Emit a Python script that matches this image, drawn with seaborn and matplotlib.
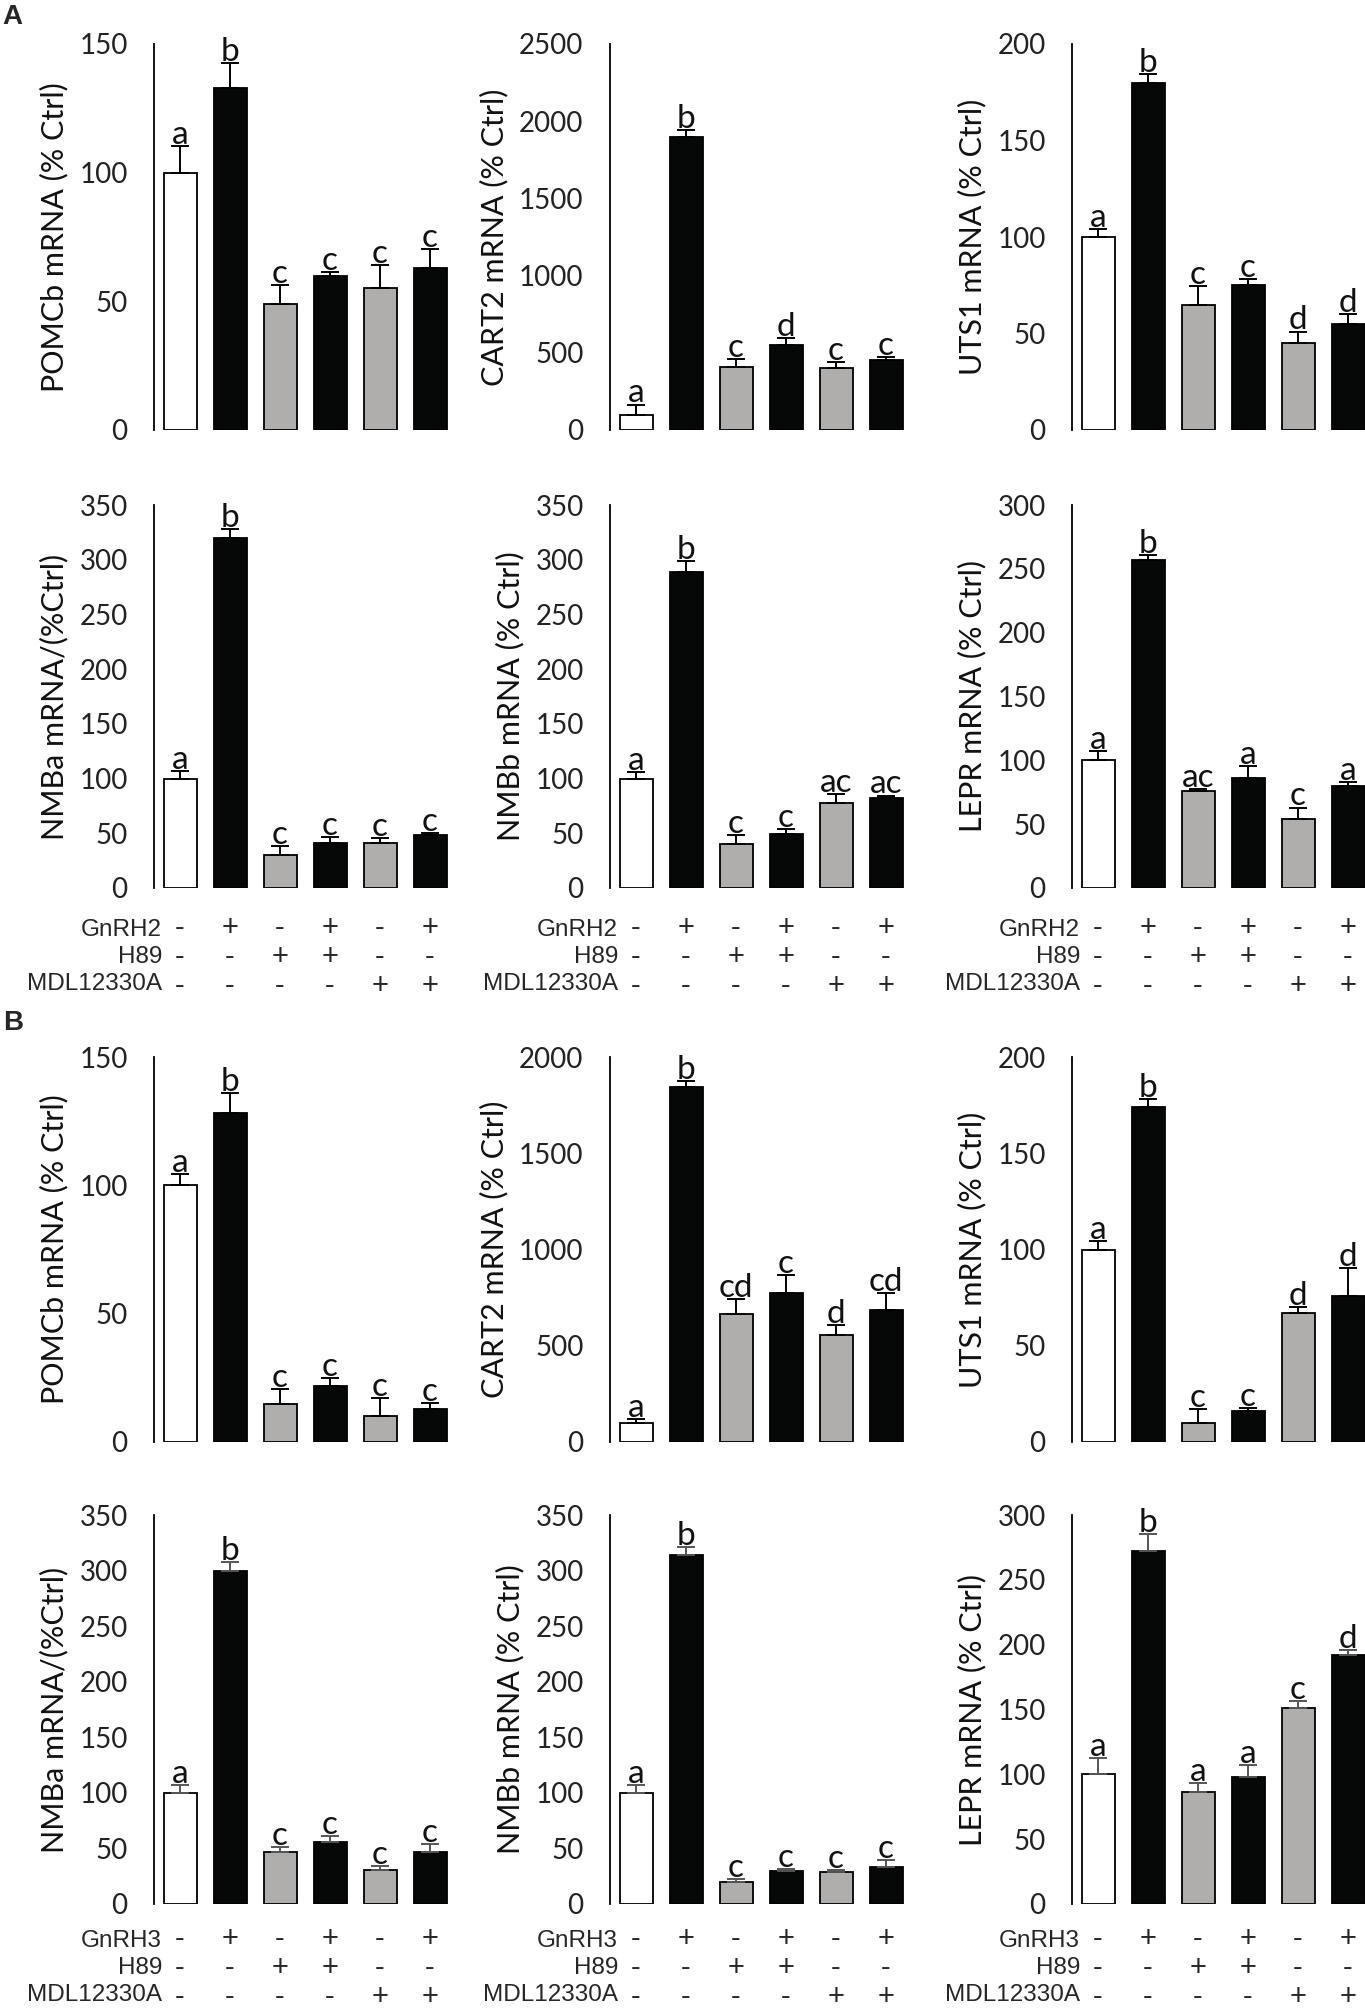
import numpy as np
import pandas as pd
import matplotlib
matplotlib.use('Agg')
import matplotlib.pyplot as plt
import seaborn as sns

sns.set_style('white')
plt.rcParams['font.family'] = ['Lato', 'DejaVu Sans']

conds = ['ctrl', 'gnrh', 'h89', 'gnrh_h89', 'mdl', 'gnrh_mdl']
bar_colors = ['white', '#060808', '#b0adad', '#060808', '#b0adad', '#060808']

# --- A: GnRH2 ---
pomcb_a = [100, 133, 49, 60, 55, 63]
pomcb_a_err = [10.5, 9.5, 7.5, 1.5, 9, 7.3]
pomcb_a_let = ['a', 'b', 'c', 'c', 'c', 'c']

cart2_a = [100, 1900, 410, 550, 400, 455]
cart2_a_err = [65, 45, 50, 45, 38, 15]
cart2_a_let = ['a', 'b', 'c', 'd', 'c', 'c']

uts1_a = [100, 180, 65, 75, 45, 55]
uts1_a_err = [4, 4.5, 9.5, 3, 6, 5]
uts1_a_let = ['a', 'b', 'c', 'c', 'd', 'd']

nmba_a = [100, 320, 30, 41, 41, 48]
nmba_a_err = [7, 8, 8.5, 5.5, 5, 2]
nmba_a_let = ['a', 'b', 'c', 'c', 'c', 'c']

nmbb_a = [100, 289, 40, 49, 78, 82]
nmbb_a_err = [6, 10, 8, 5, 8, 2.5]
nmbb_a_let = ['a', 'b', 'c', 'c', 'ac', 'ac']

lepr_a = [100, 257, 76, 86, 54, 80]
lepr_a_err = [7, 4, 1.5, 9.5, 9, 3]
lepr_a_let = ['a', 'b', 'ac', 'a', 'c', 'a']

# --- B: GnRH3 ---
pomcb_b = [100, 128, 15, 22, 10, 13]
pomcb_b_err = [4.5, 8, 5.5, 3, 7, 2.2]
pomcb_b_let = ['a', 'b', 'c', 'c', 'c', 'c']

cart2_b = [100, 1846, 665, 773, 556, 686]
cart2_b_err = [20, 30, 80, 95, 50, 90]
cart2_b_let = ['a', 'b', 'cd', 'c', 'd', 'cd']

uts1_b = [100, 174, 10, 16, 67, 76]
uts1_b_err = [4.5, 4, 7, 1.8, 3, 14.4]
uts1_b_let = ['a', 'b', 'c', 'c', 'd', 'd']

nmba_b = [100, 300, 47, 56, 31, 47]
nmba_b_err = [7, 8, 4, 5, 3, 7]
nmba_b_let = ['a', 'b', 'c', 'c', 'c', 'c']

nmbb_b = [100, 314, 20, 30, 29, 33]
nmbb_b_err = [7, 7.5, 2.5, 1.5, 1.5, 6.5]
nmbb_b_let = ['a', 'b', 'c', 'c', 'c', 'c']

lepr_b = [100, 272, 86, 98, 151, 192]
lepr_b_err = [12.5, 13, 7, 9, 5.6, 4]
lepr_b_let = ['a', 'b', 'a', 'a', 'c', 'd']

treat_a = ['GnRH2', 'H89', 'MDL12330A']
treat_b = ['GnRH3', 'H89', 'MDL12330A']
signs = [['-', '+', '-', '+', '-', '+'],
         ['-', '-', '+', '+', '-', '-'],
         ['-', '-', '-', '-', '+', '+']]

panels = [
    # row, col, values, errors, letters, ylabel, ymax, step, err colour
    (0, 0, pomcb_a, pomcb_a_err, pomcb_a_let, 'POMCb mRNA (% Ctrl)', 150, 50, 'black'),
    (0, 1, cart2_a, cart2_a_err, cart2_a_let, 'CART2 mRNA (% Ctrl)', 2500, 500, 'black'),
    (0, 2, uts1_a, uts1_a_err, uts1_a_let, 'UTS1 mRNA (% Ctrl)', 200, 50, 'black'),
    (1, 0, nmba_a, nmba_a_err, nmba_a_let, 'NMBa mRNA/(%Ctrl)', 350, 50, 'black'),
    (1, 1, nmbb_a, nmbb_a_err, nmbb_a_let, 'NMBb mRNA (% Ctrl)', 350, 50, 'black'),
    (1, 2, lepr_a, lepr_a_err, lepr_a_let, 'LEPR mRNA (% Ctrl)', 300, 50, 'black'),
    (2, 0, pomcb_b, pomcb_b_err, pomcb_b_let, 'POMCb mRNA (% Ctrl)', 150, 50, 'black'),
    (2, 1, cart2_b, cart2_b_err, cart2_b_let, 'CART2 mRNA (% Ctrl)', 2000, 500, 'black'),
    (2, 2, uts1_b, uts1_b_err, uts1_b_let, 'UTS1 mRNA (% Ctrl)', 200, 50, 'black'),
    (3, 0, nmba_b, nmba_b_err, nmba_b_let, 'NMBa mRNA/(%Ctrl)', 350, 50, '#555555'),
    (3, 1, nmbb_b, nmbb_b_err, nmbb_b_let, 'NMBb mRNA (% Ctrl)', 350, 50, '#555555'),
    (3, 2, lepr_b, lepr_b_err, lepr_b_let, 'LEPR mRNA (% Ctrl)', 300, 50, '#555555'),
]

W, H = 1365, 2012
col_x = [154, 610, 1072]
rows_px = [(44, 430), (505, 888), (1057, 1442), (1515, 1904)]
ax_w = 296
arial = ['Liberation Sans', 'DejaVu Sans']

fig = plt.figure(figsize=(W / 100, H / 100), dpi=100)

for r, c, vals, errs, lets, ylab, ymax, step, ecol in panels:
    top, zero = rows_px[r]
    ax = fig.add_axes([col_x[c] / W, 1 - zero / H, ax_w / W, (zero - top) / H])
    df = pd.DataFrame({'cond': conds, 'val': vals})
    sns.barplot(data=df, x='cond', y='val', hue='cond', order=conds,
                palette=dict(zip(conds, bar_colors)), legend=False,
                width=0.66, edgecolor='black', linewidth=1.3,
                saturation=1, errorbar=None, ax=ax)
    ax.errorbar(np.arange(6), vals, yerr=[np.zeros(6), errs], fmt='none',
                ecolor=ecol, elinewidth=1.4, capsize=6.5, capthick=1.4, zorder=3)
    for i, (v, e, l) in enumerate(zip(vals, errs, lets)):
        ax.annotate(l, xy=(i, v + e), xytext=(0, 1.5), textcoords='offset points',
                    ha='center', va='baseline', fontsize=24, color='#111111',
                    annotation_clip=False)
    ax.set_xlim(-0.52, 5.4)
    ax.set_ylim(0, ymax)
    ax.set_yticks(range(0, ymax + 1, step))
    ax.set_xticks([])
    ax.set_xlabel('')
    ax.set_ylabel(ylab, fontsize=22, labelpad=8, color='#111111')
    ax.tick_params(axis='y', direction='out', length=8, width=1.2, pad=11,
                   labelsize=20, labelcolor='#222222', color='black')
    sns.despine(ax=ax, bottom=True)
    ax.spines['left'].set_linewidth(1.3)
    ax.spines['left'].set_color('black')

    if r in (1, 3):
        names = treat_a if r == 1 else treat_b
        # centre of the middle (H89) row, pixels below the zero line
        mid = 69 if r == 1 else 64
        dy = -mid * 0.72
        ax.annotate('\n'.join(names), xy=(-0.36, 0), xytext=(0, dy),
                    textcoords='offset points', ha='right', va='center',
                    multialignment='right', linespacing=1.32, fontsize=17.5,
                    family=arial, annotation_clip=False)
        for i in range(6):
            col = '\n'.join(signs[k][i] for k in range(3))
            ax.annotate(col, xy=(i, 0), xytext=(0, dy), textcoords='offset points',
                        ha='center', va='center', linespacing=1.065, fontsize=21,
                        family=arial, annotation_clip=False)

fig.text(0.002, 1 - 4 / H, 'A', fontsize=20, weight='bold', va='top', ha='left', family=arial)
fig.text(0.002, 1 - 1010 / H, 'B', fontsize=20, weight='bold', va='top', ha='left', family=arial)

fig.savefig('out.png', dpi=100)
